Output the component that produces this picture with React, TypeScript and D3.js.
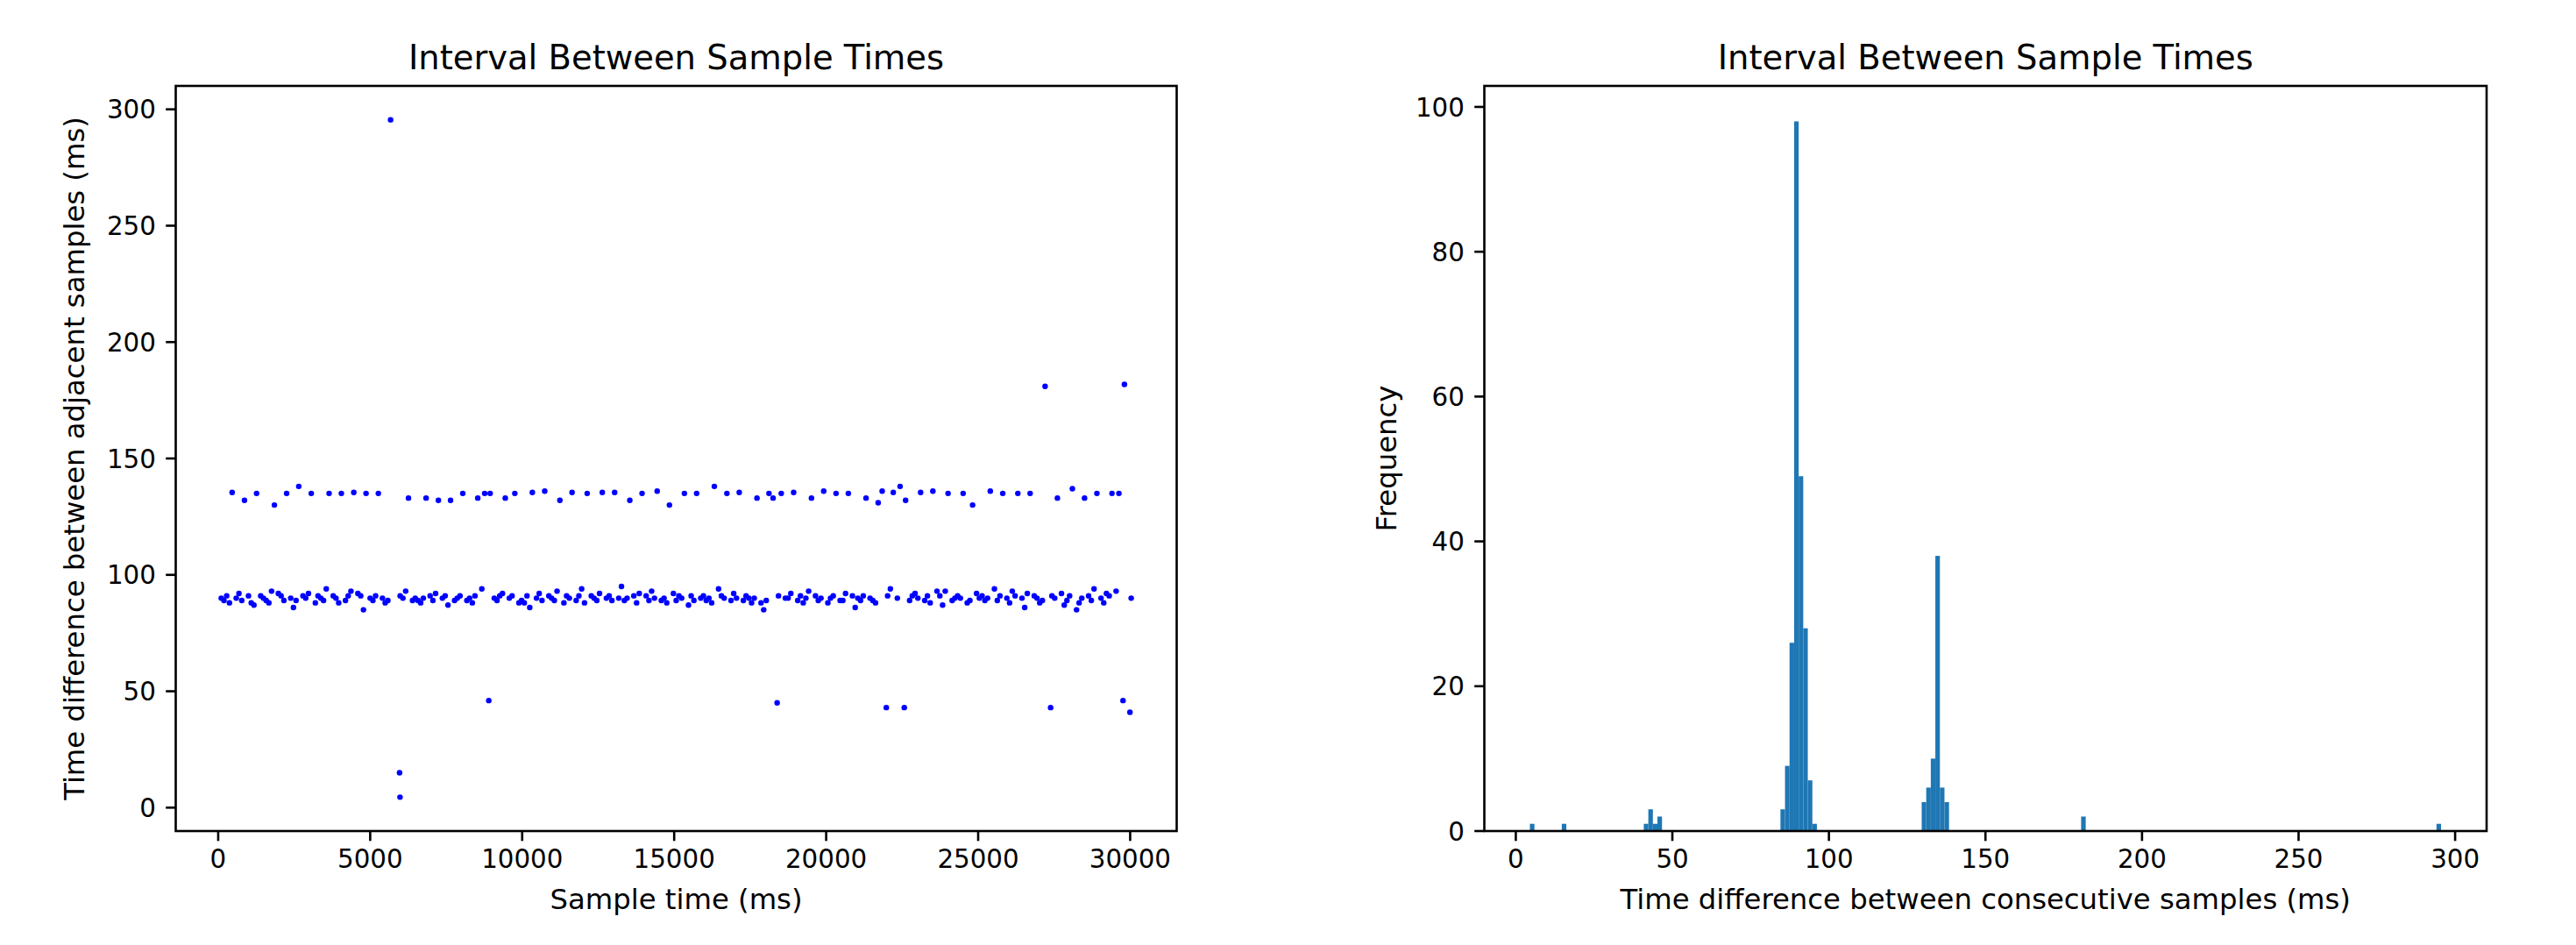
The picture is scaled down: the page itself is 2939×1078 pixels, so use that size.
import * as d3 from 'd3';

// Time between consecutive samples (ms), in recording order.
const intervals = [
  90, 89, 91, 88, 135.4,
  90, 92, 89, 132,
  91, 88, 87, 135,
  91, 90, 89, 88, 93, 130,
  92, 91, 89, 135,
  90, 86, 89, 138,
  91, 90, 92, 135,
  88, 91, 90, 89, 94, 135,
  91, 90, 88, 135,
  89, 91, 93, 135.4,
  92, 91, 85, 135,
  90, 89, 91, 135,
  90, 88, 89, 295.5, 15, 4.5,
  91, 90, 93, 133,
  89, 90, 89, 88, 90, 133,
  91, 89, 92, 132,
  90, 91, 87, 132,
  89, 90, 91, 135,
  89, 90, 88, 91, 133,
  94, 135, 46, 135,
  90, 89, 91, 92, 133,
  90, 91, 135,
  88, 89, 88, 91, 86, 135.4,
  90, 92, 89, 136,
  91, 90, 89, 93, 132,
  88, 91, 90, 135.4,
  89, 91, 94, 88, 135,
  91, 90, 89, 92, 135.4,
  90, 91, 89, 135.4,
  90, 95, 89, 90, 132,
  91, 88, 92, 135,
  91, 89, 93, 90, 136,
  89, 90, 88, 130,
  92, 89, 91, 90, 135,
  87, 91, 89, 135,
  90, 91, 89, 90, 88, 138,
  94, 91, 90, 135,
  89, 92, 90, 135.4,
  89, 91, 90, 88, 90, 133,
  88, 85, 89, 135, 133, 45,
  91, 135,
  90, 90, 92, 135.4,
  89, 91, 88, 90, 93, 133,
  91, 89, 90, 136,
  88, 90, 91, 135,
  89, 89, 92, 135,
  91, 86, 90, 89, 91, 133,
  90, 89, 88, 131, 136, 43,
  91, 94, 135.4,
  90, 138, 43, 132,
  89, 91, 92, 90, 135.4,
  89, 91, 88, 136,
  93, 91, 87, 93, 135,
  89, 90, 91, 90, 135,
  88, 89, 130,
  92, 90, 91, 89, 90, 136,
  94, 89, 91, 135,
  90, 88, 93, 91, 135,
  90, 86, 92, 135,
  91, 90, 88, 89, 181, 43,
  91, 90, 133,
  92, 87, 89, 91, 137,
  85, 88, 90, 133,
  91, 89, 94, 135,
  90, 88, 92, 91, 135,
  93, 135, 46, 181.8, 41,
  90,
];

const startTime = 100; // ms, time of the first sample
const binCount = 200;

const titleText = 'Interval Between Sample Times';
const scatterXLabel = 'Sample time (ms)';
const scatterYLabel = 'Time difference between adjacent samples (ms)';
const histXLabel = 'Time difference between consecutive samples (ms)';
const histYLabel = 'Frequency';

const W = 2939;
const H = 1078;
const FONT = '"DejaVu Sans", Verdana, sans-serif';
const TICK = 11.3;
const PAD = 11.3;
const LW = 2.6;

const leftBox = { x0: 200.5, x1: 1342.5, y0: 98, y1: 948 };
const rightBox = { x0: 1693.5, x1: 2837, y0: 98, y1: 948 };

// matplotlib style 5% margins
const padExtent = ([a, b]) => {
  const r = b - a;
  return [a - 0.05 * r, b + 0.05 * r];
};

const fmt = d3.format('d');

function Frame({ box, x, y, xTicks, yTicks, xLabel, yLabel, yLabelX, children }) {
  const cx = (box.x0 + box.x1) / 2;
  const cy = (box.y0 + box.y1) / 2;
  return (
    <g>
      {children}
      <rect
        x={box.x0}
        y={box.y0}
        width={box.x1 - box.x0}
        height={box.y1 - box.y0}
        fill="none"
        stroke="#000"
        strokeWidth={LW}
      />
      {xTicks.map(t => (
        <g key={'x' + t}>
          <line x1={x(t)} x2={x(t)} y1={box.y1} y2={box.y1 + TICK} stroke="#000" strokeWidth={LW} />
          <text x={x(t)} y={box.y1 + 42} textAnchor="middle" fontSize={29.3}>
            {fmt(t)}
          </text>
        </g>
      ))}
      {yTicks.map(t => (
        <g key={'y' + t}>
          <line x1={box.x0 - TICK} x2={box.x0} y1={y(t)} y2={y(t)} stroke="#000" strokeWidth={LW} />
          <text x={box.x0 - TICK - PAD} y={y(t)} dy="0.36em" textAnchor="end" fontSize={29.3}>
            {fmt(t)}
          </text>
        </g>
      ))}
      <text x={cx} y={box.y0 - 19.4} textAnchor="middle" fontSize={38.5}>
        {titleText}
      </text>
      <text x={cx} y={1037} textAnchor="middle" fontSize={32.3}>
        {xLabel}
      </text>
      <text
        transform={`translate(${yLabelX},${cy}) rotate(-90)`}
        textAnchor="middle"
        fontSize={32.3}
      >
        {yLabel}
      </text>
    </g>
  );
}

export default function App() {
  // sample times: each point sits at the time its interval starts
  const cum = d3.cumsum(intervals);
  const times = intervals.map((_, i) => startTime + (i ? cum[i - 1] : 0));

  const sx = d3.scaleLinear().domain(padExtent(d3.extent(times))).range([leftBox.x0, leftBox.x1]);
  const sy = d3.scaleLinear().domain(padExtent(d3.extent(intervals))).range([leftBox.y1, leftBox.y0]);

  const [lo, hi] = d3.extent(intervals);
  const step = (hi - lo) / binCount;
  const bins = d3
    .bin()
    .domain([lo, hi])
    .thresholds(d3.range(1, binCount).map(i => lo + i * step))(intervals);

  const hx = d3.scaleLinear().domain(padExtent([lo, hi])).range([rightBox.x0, rightBox.x1]);
  const hy = d3
    .scaleLinear()
    .domain([0, d3.max(bins, b => b.length) * 1.05])
    .range([rightBox.y1, rightBox.y0]);

  return (
    <svg
      width={W}
      height={H}
      style={{ position: 'absolute', left: 0, top: 0, background: '#fff' }}
      fontFamily={FONT}
      fill="#000"
    >
      <rect width={W} height={H} fill="#fff" />
      <Frame
        box={leftBox}
        x={sx}
        y={sy}
        xTicks={sx.ticks(6)}
        yTicks={sy.ticks(6)}
        xLabel={scatterXLabel}
        yLabel={scatterYLabel}
        yLabelX={96}
      >
        {intervals.map((d, i) => (
          <circle key={i} cx={sx(times[i])} cy={sy(d)} r={3.2} fill="#0000ff" />
        ))}
      </Frame>
      <Frame
        box={rightBox}
        x={hx}
        y={hy}
        xTicks={hx.ticks(6)}
        yTicks={hy.ticks(5)}
        xLabel={histXLabel}
        yLabel={histYLabel}
        yLabelX={1593}
      >
        {bins
          .filter(b => b.length > 0)
          .map((b, i) => (
            <rect
              key={i}
              x={hx(b.x0)}
              width={hx(b.x1) - hx(b.x0)}
              y={hy(b.length)}
              height={hy(0) - hy(b.length)}
              fill="#1f77b4"
            />
          ))}
      </Frame>
    </svg>
  );
}
